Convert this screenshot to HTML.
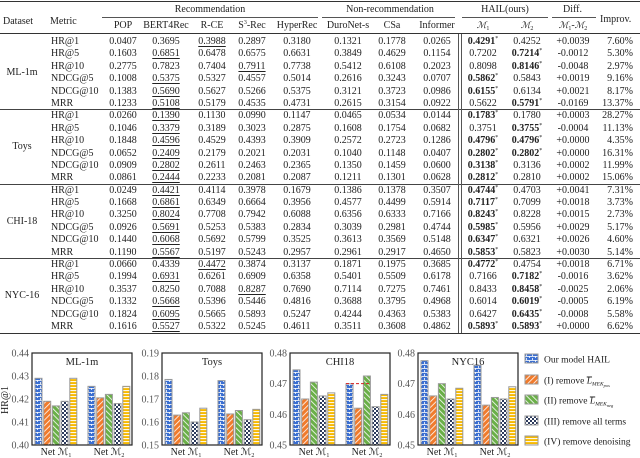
<!DOCTYPE html>
<html><head><meta charset="utf-8"><style>
body{margin:0;width:640px;height:458px;background:#fff;position:relative;overflow:hidden;font-family:"Liberation Serif",serif;color:#222}
.c{position:absolute;font-size:10px;line-height:12px;white-space:nowrap;text-align:center;width:70px}
.r{position:absolute;font-size:10px;line-height:12px;white-space:nowrap;text-align:right;width:60px}
.l{position:absolute;font-size:10px;line-height:12px;white-space:nowrap}
.hl{position:absolute;height:0;border-top:1px solid #555}
u{text-decoration:underline;text-underline-offset:2px}
sup{font-size:6px;position:relative;top:-4px;vertical-align:baseline;line-height:0}
sub{font-size:6px;position:relative;top:2px;vertical-align:baseline;line-height:0}
i.m{font-family:"DejaVu Serif",serif;font-style:italic;font-size:9px}
</style></head><body>
<div id="table"></div>
<svg id="charts" width="640" height="458" style="position:absolute;left:0;top:0">
<defs>
<pattern id="pBlue" width="6" height="4" patternUnits="userSpaceOnUse"><rect width="6" height="4" fill="#3b6fd1"/><line x1="0" y1="0.5" x2="6" y2="0.5" stroke="#fff" stroke-width="0.8"/><line x1="1.5" y1="0" x2="1.5" y2="2" stroke="#fff" stroke-width="0.8"/><line x1="4.5" y1="2" x2="4.5" y2="4" stroke="#fff" stroke-width="0.8"/></pattern>
<pattern id="pOrange" width="4" height="4" patternUnits="userSpaceOnUse" patternTransform="rotate(45)"><rect width="4" height="4" fill="#f07b2c"/><line x1="0" y1="0" x2="0" y2="4" stroke="#fff" stroke-width="1.6"/></pattern>
<pattern id="pGreen" width="4" height="4" patternUnits="userSpaceOnUse" patternTransform="rotate(-45)"><rect width="4" height="4" fill="#6aaf48"/><line x1="0" y1="0" x2="0" y2="4" stroke="#fff" stroke-width="1.6"/></pattern>
<pattern id="pNavy" width="4" height="4" patternUnits="userSpaceOnUse"><rect width="4" height="4" fill="#2c3a5c"/><rect width="2" height="2" fill="#fff"/><rect x="2" y="2" width="2" height="2" fill="#fff"/></pattern>
<pattern id="pYellow" width="4" height="3" patternUnits="userSpaceOnUse"><rect width="4" height="3" fill="#f7b900"/><line x1="0" y1="0.6" x2="4" y2="0.6" stroke="#fff" stroke-width="1"/></pattern>
</defs>
</svg>
<script>
const T=document.getElementById('table');
const colX=[123,166,212,252,297,348,392,437,483,527,573];
const headers=['POP','BERT4Rec','R-CE','S<sup>3</sup>-Rec','HyperRec','DuroNet-s','CSa','Informer','<i class="m">ℳ</i><sub>1</sub>','<i class="m">ℳ</i><sub>2</sub>','<i class="m">ℳ</i><sub>1</sub>-<i class="m">ℳ</i><sub>2</sub>'];
const datasets=['ML-1m','Toys','CHI-18','NYC-16'];
const metrics=['HR@1','HR@5','HR@10','NDCG@5','NDCG@10','MRR'];
const rows=[
'0.0407 0.3695 _0.3988 0.2897 0.3180 0.1321 0.1778 0.0265 *0.4291 0.4252 +0.0039 7.60%',
'0.1603 _0.6851 0.6478 0.6575 0.6631 0.3849 0.4629 0.1154 0.7202 *0.7214 -0.0012 5.30%',
'0.2775 0.7823 0.7404 _0.7911 0.7738 0.5412 0.6108 0.2023 0.8098 *0.8146 -0.0048 2.97%',
'0.1008 _0.5375 0.5327 0.4557 0.5014 0.2616 0.3243 0.0707 *0.5862 0.5843 +0.0019 9.16%',
'0.1383 _0.5690 0.5627 0.5266 0.5375 0.3121 0.3723 0.0986 *0.6155 0.6134 +0.0021 8.17%',
'0.1233 _0.5108 0.5179 0.4535 0.4731 0.2615 0.3154 0.0922 0.5622 *0.5791 -0.0169 13.37%',
'0.0260 _0.1390 0.1130 0.0990 0.1147 0.0465 0.0534 0.0144 *0.1783 0.1780 +0.0003 28.27%',
'0.1046 _0.3379 0.3189 0.3023 0.2875 0.1608 0.1754 0.0682 0.3751 *0.3755 -0.0004 11.13%',
'0.1848 _0.4596 0.4529 0.4393 0.3909 0.2572 0.2723 0.1286 *0.4796 *0.4796 +0.0000 4.35%',
'0.0652 _0.2409 0.2179 0.2021 0.2031 0.1040 0.1148 0.0407 *0.2802 *0.2802 +0.0000 16.31%',
'0.0909 _0.2802 0.2611 0.2463 0.2365 0.1350 0.1459 0.0600 *0.3138 0.3136 +0.0002 11.99%',
'0.0861 _0.2444 0.2233 0.2081 0.2087 0.1211 0.1301 0.0628 *0.2812 0.2810 +0.0002 15.06%',
'0.0249 _0.4421 0.4114 0.3978 0.1679 0.1386 0.1378 0.3507 *0.4744 0.4703 +0.0041 7.31%',
'0.1668 _0.6861 0.6349 0.6664 0.3956 0.4577 0.4499 0.5914 *0.7117 0.7099 +0.0018 3.73%',
'0.3250 _0.8024 0.7708 0.7942 0.6088 0.6356 0.6333 0.7166 *0.8243 0.8228 +0.0015 2.73%',
'0.0926 _0.5691 0.5253 0.5383 0.2834 0.3039 0.2981 0.4744 *0.5985 0.5956 +0.0029 5.17%',
'0.1440 _0.6068 0.5692 0.5799 0.3525 0.3613 0.3569 0.5148 *0.6347 0.6321 +0.0026 4.60%',
'0.1190 _0.5567 0.5197 0.5243 0.2957 0.2961 0.2917 0.4650 *0.5853 0.5823 +0.0030 5.14%',
'0.0660 0.4339 _0.4472 0.3874 0.3137 0.1871 0.1975 0.3685 *0.4772 0.4754 +0.0018 6.71%',
'0.1994 _0.6931 0.6261 0.6909 0.6358 0.5401 0.5509 0.6178 0.7166 *0.7182 -0.0016 3.62%',
'0.3537 0.8250 0.7088 _0.8287 0.7690 0.7114 0.7275 0.7461 0.8433 *0.8458 -0.0025 2.06%',
'0.1332 _0.5668 0.5396 0.5446 0.4816 0.3688 0.3795 0.4968 0.6014 *0.6019 -0.0005 6.19%',
'0.1824 _0.6095 0.5665 0.5893 0.5247 0.4244 0.4363 0.5383 0.6427 *0.6435 -0.0008 5.58%',
'0.1616 _0.5527 0.5322 0.5245 0.4611 0.3511 0.3608 0.4862 *0.5893 *0.5893 +0.0000 6.62%'];
let h='';
const P=12.39,Y0=36;
function cell(x,y,html){return `<div class="c" style="left:${x-35}px;top:${y}px">${html}</div>`;}
h+=`<div class="hl" style="left:0;width:640px;top:1px;border-top:1.5px solid #333"></div>`;
h+=`<div class="l" style="left:3px;top:16px">Dataset</div><div class="l" style="left:50px;top:16px">Metric</div>`;
h+=`<div class="c" style="left:155px;top:4px;width:110px">Recommendation</div>`;
h+=`<div class="c" style="left:340px;top:4px;width:100px">Non-recommendation</div>`;
h+=`<div class="c" style="left:465px;top:4px;width:80px">HAIL(ours)</div>`;
h+=`<div class="c" style="left:540px;top:4px;width:65px">Diff.</div>`;
h+=`<div class="l" style="left:600px;top:14px">Improv.</div>`;
h+=`<div class="hl" style="left:102px;width:216px;top:17px"></div><div class="hl" style="left:322px;width:133px;top:17px"></div><div class="hl" style="left:462px;width:86px;top:17px"></div><div class="hl" style="left:552px;width:44px;top:17px"></div>`;
headers.forEach((t,i)=>{h+=cell(colX[i],20,t);});
h+=`<div class="hl" style="left:0;width:640px;top:33px;border-top:1px solid #333"></div>`;
rows.forEach((r,ri)=>{
  const y=Y0+ri*P;
  h+=`<div class="l" style="left:51px;top:${y}px">${metrics[ri%6]}</div>`;
  const v=r.split(' ');
  v.forEach((s,i)=>{
    let t=s;
    if(t[0]==='_')t='<u>'+t.slice(1)+'</u>';
    else if(t[0]==='*')t='<b>'+t.slice(1)+'</b><sup>*</sup>';
    if(i===11)h+=`<div class="r" style="left:573px;top:${y}px">${t}</div>`;
    else h+=cell(colX[i],y,t);
  });
});
datasets.forEach((d,i)=>{
  h+=`<div class="c" style="left:-13px;top:${Y0+(i*6+2.5)*P}px">${d}</div>`;
  if(i>0)h+=`<div class="hl" style="left:0;width:640px;top:${Y0+i*6*P-1}px;border-top:1px solid #444"></div>`;
});
h+=`<div class="hl" style="left:0;width:640px;top:${Y0+24*P}px;border-top:1.5px solid #333"></div>`;
h+=`<div style="position:absolute;left:458px;top:34px;width:2px;height:${24*P+2}px;border-left:1px solid #555;border-right:1px solid #555"></div>`;
T.innerHTML=h;

// ===== charts =====
const chartTitles=['ML-1m','Toys','CHI18','NYC16'];
const yMins=[0.40,0.15,0.45,0.45];
const yMaxs=[0.44,0.19,0.48,0.48];
const tickLabelsML=['0.40','0.41','0.42','0.43','0.44'];
const tickLabelsToys=['0.15','0.16','0.17','0.18','0.19'];
const tickLabelsCHI=['0.45','0.46','0.47','0.48'];
const tickLabelsNYC=['0.45','0.46','0.47','0.48'];
const mlM1=[0.429,0.419,0.417,0.419,0.429];
const mlM2=[0.4255,0.4205,0.422,0.418,0.4255];
const toysM1=[0.1785,0.163,0.164,0.160,0.166];
const toysM2=[0.178,0.1635,0.165,0.161,0.1655];
const chiM1=[0.4745,0.465,0.4705,0.466,0.467];
const chiM2=[0.470,0.462,0.4725,0.4625,0.4665];
const nycM1=[0.4775,0.466,0.470,0.465,0.4685];
const nycM2=[0.476,0.463,0.4655,0.465,0.469];
const chiRef=0.470;
const groupNames=['Net ℳ','Net ℳ'];
const legendNames=['Our model HAIL','(I) remove ','(II) remove ','(III) remove all terms','(IV) remove denoising'];

const ticks=[tickLabelsML,tickLabelsToys,tickLabelsCHI,tickLabelsNYC];
const series=[[mlM1,mlM2],[toysM1,toysM2],[chiM1,chiM2],[nycM1,nycM2]];
const fills=['url(#pBlue)','url(#pOrange)','url(#pGreen)','url(#pNavy)','url(#pYellow)'];
const boxL=[32,162,290,418],boxW=100,boxT=353,boxB=445;
const S=document.getElementById('charts');
const NS='http://www.w3.org/2000/svg';
function mk(tag,attrs,parent){const e=document.createElementNS(NS,tag);for(const k in attrs)e.setAttribute(k,attrs[k]);(parent||S).appendChild(e);return e;}
chartTitles.forEach((title,ci)=>{
  const g=mk('g',{});
  
  
  const yS=v=>boxB-(v-yMins[ci])/(yMaxs[ci]-yMins[ci])*(boxB-boxT);
  const x0=boxL[ci];
  ticks[ci].forEach(t=>{
    const tx=mk('text',{x:x0-3,y:yS(parseFloat(t))+3.5,'text-anchor':'end','font-size':'10','fill':'#555','font-family':'Liberation Serif'},g);
    tx.textContent=t;
    
    
  });
  series[ci].forEach((vals,gi)=>{
    const gx=x0+3+gi*53;
    vals.forEach((v,bi)=>{
      const r=mk('rect',{x:gx+bi*8.7,y:yS(v),width:7,height:boxB-yS(v),fill:fills[bi],stroke:'#9a9a9a','stroke-width':'1'},g);
      
      
    });
    const lb=mk('text',{x:gx+21,y:455,'text-anchor':'middle','font-size':'10','fill':'#222','font-family':'Liberation Serif'},g);
    lb.innerHTML=groupNames[gi]+'<tspan font-size="6" dy="2">'+(gi+1)+'</tspan>';
    
    
  });
  if(ci===2){
    const gx=x0+3+53;
    const ln=mk('line',{x1:gx,x2:gx+2*8.7+7,y1:yS(chiRef),y2:yS(chiRef),stroke:'#d62020','stroke-width':'1','stroke-dasharray':'3,2'},g);
    
    
  }
  const bx=mk('rect',{x:x0,y:boxT,width:boxW,height:boxB-boxT,fill:'none',stroke:'#222','stroke-width':'1.2'},g);
  
  
  const tt=mk('text',{x:x0+boxW/2,y:boxT+12,'text-anchor':'middle','font-size':'10.5','fill':'#222','font-family':'Liberation Serif'},g);
  tt.textContent=title;
  
  
});
const yl=mk('text',{x:0,y:0,transform:'translate(8,400) rotate(-90)','text-anchor':'middle','font-size':'10','fill':'#222','font-family':'Liberation Serif'});
yl.textContent='HR@1';


const legY=[359,380,400,421,441];
legendNames.forEach((n,i)=>{
  const r=mk('rect',{x:525,y:legY[i]-5,width:13,height:9,fill:fills[i],stroke:'#9a9a9a','stroke-width':'1'});
  
  
  const t=mk('text',{x:544,y:legY[i]+3.5,'font-size':'9.5','fill':'#222','font-family':'Liberation Serif'});
  if(i===1||i===2){
    t.innerHTML=n+'<tspan font-style="italic" text-decoration="overline">L</tspan><tspan font-style="italic" font-size="5.5" dy="2">MEK</tspan><tspan font-style="italic" font-size="4.5" dy="1.5">'+(i===1?'pos':'neg')+'</tspan>';
  } else t.textContent=n;
  
  
});
</script>
</body></html>
